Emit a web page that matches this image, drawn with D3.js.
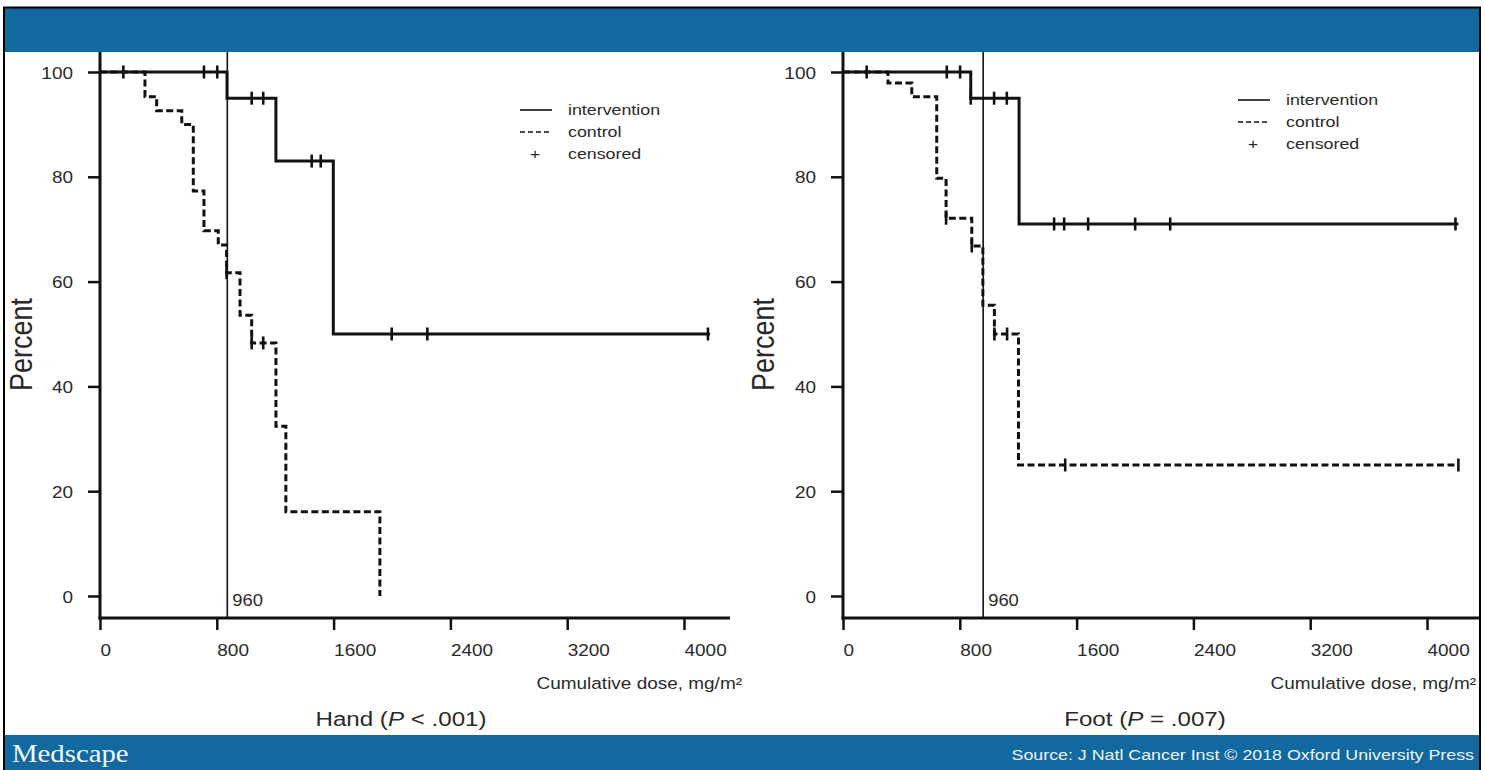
<!DOCTYPE html>
<html>
<head>
<meta charset="utf-8">
<script src="https://cdn.jsdelivr.net/npm/d3@7"></script>
<style>
  body { margin: 0; background: #fff; }
  svg { display: block; font-family: "Liberation Sans", Arial, sans-serif; }
</style>
</head>
<body>
<script>
// ---- data ----
const xTicks = [0, 800, 1600, 2400, 3200, 4000];
const yTicks = [0, 20, 40, 60, 80, 100];
const legendLabels = ["intervention", "control", "censored"];

// Kaplan-Meier steps: [cumulative dose, percent]
const handInterventionSteps = [[0, 100], [870, 95], [1205, 83], [1598, 50]];
const handInterventionEnd = 4178;
const handInterventionCensored = [160, 712, 803, 1039, 1118, 1450, 1512, 1998, 2242, 4164];

const handControlSteps = [[0, 100], [308, 95.3], [388, 92.6], [560, 90], [639, 77.3], [712, 69.7],
  [810, 67], [867, 61.7], [959, 53.6], [1039, 48.3], [1205, 32.4], [1273, 16.1], [1917, 0]];
const handControlEnd = 1917;
const handControlCensored = [867, 1039, 1118];

const footInterventionSteps = [[0, 100], [875, 95], [1206, 71]];
const footInterventionEnd = 4215;
const footInterventionCensored = [162, 711, 802, 875, 1035, 1122, 1446, 1515, 1679, 2001, 2241, 4195];

const footControlSteps = [[0, 100], [308, 97.9], [471, 95.3], [642, 79.7], [706, 72.1], [882, 66.8],
  [958, 55.5], [1037, 50], [1202, 25]];
const footControlEnd = 4215;
const footControlCensored = [706, 882, 1037, 1124, 1522, 4215];

// the marked dose line sits at a slightly different place in each panel
const refLineDose = [872, 960];
const refLineLabel = "960";
const panelNames = ["Hand", "Foot"];
const panelPValues = ["< .001", "= .007"];

// ---- layout ----
const W = 1485, H = 770;
const S = 1.15; // the slide's lettering is stretched horizontally
const blue = "#12699f";
const ink = "#111";
const textCol = "#2a2a2a";

const panels = [
  { x0: 100, steps: [handInterventionSteps, handControlSteps], ends: [handInterventionEnd, handControlEnd],
    censored: [handInterventionCensored, handControlCensored], axisEnd: 4315,
    legend: { x: 520, y: 110 }, titleX: 401, percentX: 32, xTitleEnd: 742 },
  { x0: 843, steps: [footInterventionSteps, footControlSteps], ends: [footInterventionEnd, footControlEnd],
    censored: [footInterventionCensored, footControlCensored], axisEnd: 4366,
    legend: { x: 1238, y: 100 }, titleX: 1145, percentX: 774, xTitleEnd: 1476 }
];

const svg = d3.select("body").append("svg")
  .attr("width", W)
  .attr("height", H)
  .attr("viewBox", `0 0 ${W} ${H}`);

const y = d3.scaleLinear().domain([0, 100]).range([596, 72]);
const axisY = y(-4.2);
const axisTop = y(104.5);

function levelAt(steps, d) {
  let p = steps[0][1];
  steps.forEach(s => { if (s[0] <= d) p = s[1]; });
  return p;
}

function stretched(x, yy) {
  return `translate(${x},${yy}) scale(${S},1)`;
}

panels.forEach((p, i) => {
  const x = d3.scaleLinear().domain([0, 4000]).range([p.x0, p.x0 + 584]);
  const g = svg.append("g");

  // reference dose line
  g.append("line")
    .attr("x1", x(refLineDose[i])).attr("x2", x(refLineDose[i]))
    .attr("y1", axisTop).attr("y2", axisY)
    .attr("stroke", ink).attr("stroke-width", 1.6);

  g.append("text")
    .attr("transform", stretched(x(refLineDose[i]) + 5, y(0) + 10))
    .attr("font-size", 16)
    .attr("fill", textCol)
    .text(refLineLabel);

  // survival curves
  const line = d3.line()
    .x(d => x(d[0]))
    .y(d => y(d[1]))
    .curve(d3.curveStepAfter);

  p.steps.forEach((steps, k) => {
    const last = steps[steps.length - 1];
    const pts = steps.concat(p.ends[k] > last[0] ? [[p.ends[k], last[1]]] : []);
    g.append("path")
      .attr("d", line(pts))
      .attr("fill", "none")
      .attr("stroke", ink)
      .attr("stroke-width", 3)
      .attr("stroke-dasharray", k === 1 ? "7,3.5" : null);

    g.selectAll(null)
      .data(p.censored[k])
      .join("line")
      .attr("x1", d => x(d)).attr("x2", d => x(d))
      .attr("y1", d => y(levelAt(steps, d)) - 6.5)
      .attr("y2", d => y(levelAt(steps, d)) + 6.5)
      .attr("stroke", ink)
      .attr("stroke-width", 2.6);
  });

  // axes
  g.append("line")
    .attr("x1", x(0)).attr("x2", x(0))
    .attr("y1", axisTop).attr("y2", axisY + 1.5)
    .attr("stroke", ink).attr("stroke-width", 3);
  g.append("line")
    .attr("x1", x(0) - 1.5).attr("x2", x(p.axisEnd))
    .attr("y1", axisY).attr("y2", axisY)
    .attr("stroke", ink).attr("stroke-width", 3);

  g.append("g")
    .attr("transform", `translate(0,${axisY})`)
    .call(d3.axisBottom(x).tickValues(xTicks).tickSize(12).tickSizeOuter(0).tickFormat(d3.format("d")))
    .attr("font-family", null)
    .attr("font-size", null)
    .call(a => a.select(".domain").remove())
    .call(a => a.selectAll(".tick line").attr("stroke", ink).attr("stroke-width", 2.5))
    .call(a => a.selectAll(".tick text")
      .attr("y", null).attr("dy", null)
      .attr("text-anchor", "start")
      .attr("transform", stretched(0, 38))
      .attr("font-size", 16.5)
      .attr("fill", textCol));

  g.append("g")
    .attr("transform", `translate(${x(0)},0)`)
    .call(d3.axisLeft(y).tickValues(yTicks).tickSize(12).tickSizeOuter(0))
    .attr("font-family", null)
    .attr("font-size", null)
    .call(a => a.select(".domain").remove())
    .call(a => a.selectAll(".tick line").attr("stroke", ink).attr("stroke-width", 2.5))
    .call(a => a.selectAll(".tick text")
      .attr("x", null).attr("dy", null)
      .attr("text-anchor", "end")
      .attr("transform", stretched(-27, 6))
      .attr("font-size", 16.5)
      .attr("fill", textCol));

  // axis titles
  g.append("text")
    .attr("transform", `translate(${p.percentX},${y(48)}) scale(${S},1) rotate(-90)`)
    .attr("text-anchor", "middle")
    .attr("font-size", 27)
    .attr("fill", textCol)
    .text("Percent");

  g.append("text")
    .attr("transform", stretched(p.xTitleEnd, 689))
    .attr("text-anchor", "end")
    .attr("font-size", 16.5)
    .attr("fill", textCol)
    .text("Cumulative dose, mg/m²");

  // panel title
  const t = g.append("text")
    .attr("transform", stretched(p.titleX, 726))
    .attr("text-anchor", "middle")
    .attr("font-size", 21)
    .attr("fill", textCol);
  t.append("tspan").text(`${panelNames[i]} (`);
  t.append("tspan").attr("font-style", "italic").text("P");
  t.append("tspan").text(` ${panelPValues[i]})`);

  // legend
  const lg = g.append("g").attr("transform", `translate(${p.legend.x},${p.legend.y})`);
  lg.selectAll("text.lab")
    .data(legendLabels)
    .join("text")
    .attr("class", "lab")
    .attr("transform", (d, j) => stretched(48, j * 22 + 5))
    .attr("font-size", 15.5)
    .attr("fill", textCol)
    .text(d => d);
  lg.append("line").attr("x1", 0).attr("x2", 32).attr("y1", 0).attr("y2", 0)
    .attr("stroke", ink).attr("stroke-width", 1.6);
  lg.append("line").attr("x1", 0).attr("x2", 32).attr("y1", 22).attr("y2", 22)
    .attr("stroke", ink).attr("stroke-width", 1.6).attr("stroke-dasharray", "5,3");
  lg.append("text")
    .attr("transform", stretched(15, 49))
    .attr("text-anchor", "middle")
    .attr("font-size", 15)
    .attr("fill", textCol)
    .text("+");
});

// header, footer and frame of the slide
svg.append("rect").attr("x", 5).attr("y", 8).attr("width", 1475).attr("height", 44).attr("fill", blue);
svg.append("rect").attr("x", 5).attr("y", 735).attr("width", 1475).attr("height", 35).attr("fill", blue);
svg.append("rect").attr("x", 4).attr("y", 7.5).attr("width", 1476).attr("height", 770)
  .attr("fill", "none").attr("stroke", "#000").attr("stroke-width", 2);

svg.append("text")
  .attr("transform", stretched(12, 762))
  .attr("font-family", "'Liberation Serif', 'DejaVu Serif', serif")
  .attr("font-size", 25)
  .attr("fill", "#f2f6fa")
  .text("Medscape");

svg.append("text")
  .attr("transform", stretched(1474, 760))
  .attr("text-anchor", "end")
  .attr("font-size", 15.5)
  .attr("fill", "#eef3f8")
  .text("Source: J Natl Cancer Inst © 2018 Oxford University Press");
</script>
</body>
</html>
